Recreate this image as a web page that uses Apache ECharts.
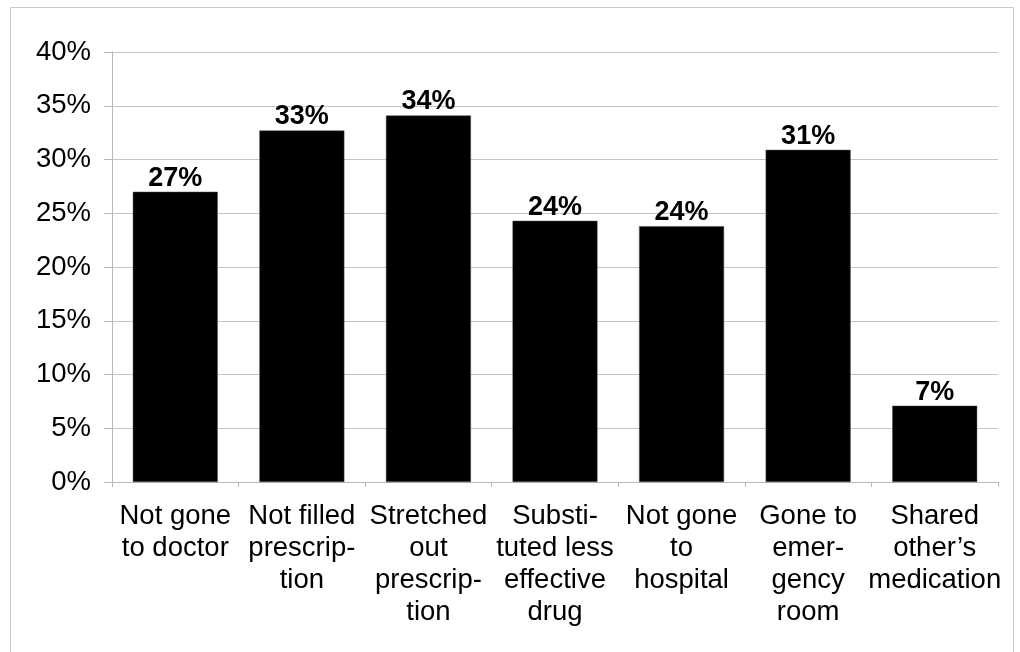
<!DOCTYPE html>
<html>
<head>
<meta charset="utf-8">
<script src="https://cdn.jsdelivr.net/npm/echarts@6/dist/echarts.min.js"></script>
<style>
  html, body { margin: 0; padding: 0; background: #fff; }
  #chart { width: 1020px; height: 652px; }
</style>
</head>
<body>
<div id="chart"></div>
<script>
// Share of respondents taking each action
const categories = [
  'Not gone\nto doctor',
  'Not filled\nprescrip-\ntion',
  'Stretched\nout\nprescrip-\ntion',
  'Substi-\ntuted less\neffective\ndrug',
  'Not gone\nto\nhospital',
  'Gone to\nemer-\ngency\nroom',
  'Shared\nother\u2019s\nmedication'
];
const percentValues = [27.0, 32.7, 34.1, 24.3, 23.8, 30.9, 7.1];
const yTicks = [0, 5, 10, 15, 20, 25, 30, 35, 40];

const FONT = 'Liberation Sans, Arial, sans-serif';
const chart = echarts.init(document.getElementById('chart'), null, { renderer: 'canvas' });

chart.setOption({
  animation: false,
  backgroundColor: '#ffffff',
  graphic: [{
    type: 'rect',
    shape: { x: 10.5, y: 7.5, width: 1003, height: 680 },
    style: { fill: 'none', stroke: '#c8c8c8', lineWidth: 1 },
    silent: true
  }],
  grid: { left: 112, right: 22, top: 52, bottom: 170, containLabel: false },
  xAxis: {
    type: 'category',
    data: categories,
    boundaryGap: true,
    axisLine: { show: true, lineStyle: { color: '#b8b8b8', width: 1 } },
    axisTick: { show: true, length: 5, alignWithLabel: false, lineStyle: { color: '#b8b8b8' } },
    axisLabel: {
      interval: 0,
      color: '#000',
      fontFamily: FONT,
      fontSize: 27.5,
      lineHeight: 32,
      margin: 18
    }
  },
  yAxis: {
    type: 'value',
    min: yTicks[0],
    max: yTicks[yTicks.length - 1],
    interval: yTicks[1] - yTicks[0],
    axisLine: { show: true, lineStyle: { color: '#b8b8b8', width: 1 } },
    axisTick: { show: true, length: 8, lineStyle: { color: '#b8b8b8' } },
    splitLine: { show: true, lineStyle: { color: '#c4c4c4', width: 1 } },
    axisLabel: {
      color: '#000',
      fontFamily: FONT,
      fontSize: 27.5,
      margin: 21,
      formatter: v => v + '%'
    }
  },
  series: [{
    type: 'bar',
    data: percentValues,
    barWidth: 85,
    itemStyle: { color: '#000', borderColor: '#555', borderWidth: 0.5 },
    label: {
      show: true,
      position: 'top',
      distance: 0,
      color: '#000',
      fontFamily: FONT,
      fontWeight: 'bold',
      fontSize: 27,
      formatter: p => Math.round(p.value) + '%'
    }
  }]
});
</script>
</body>
</html>
